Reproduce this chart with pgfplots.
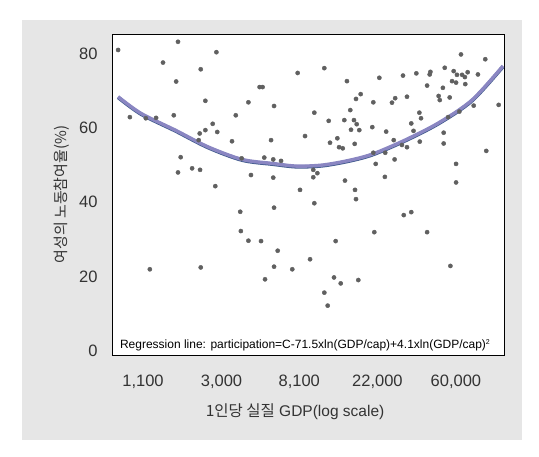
\documentclass[border=0pt]{standalone}
\usepackage{fontspec}
\setmainfont{Liberation Sans}
\newfontfamily\kr{Noto Sans CJK KR}
\usepackage{pgfplots}
\usepackage{pgfplotstable}
\pgfplotsset{compat=1.18}

\definecolor{bggray}{HTML}{E6E6E6}
\definecolor{dotgray}{HTML}{606060}
\definecolor{curvecol}{HTML}{8A86C2}
\definecolor{curveedge}{HTML}{3F5A8C}
\definecolor{txt}{HTML}{333333}

% GDP per capita (USD), participation (%)
\pgfplotstableread{
x y
800 81.0
1720 83.2
2810 80.4
1420 77.6
2300 75.8
1680 72.5
2440 67.3
930 62.9
1140 62.6
1300 62.7
1630 63.4
3600 63.4
2680 61.1
2440 59.4
2270 58.5
2840 58.9
2240 56.7
3430 56.4
1780 52.1
1720 48.0
2060 49.1
2280 48.7
2770 44.3
3880 51.8
4230 66.9
4880 71.0
5070 71.0
5870 65.9
7940 74.8
11160 76.1
14900 72.6
17760 69.1
16730 67.8
20870 66.9
9820 64.1
15550 64.8
11800 61.9
14410 62.1
16300 62.1
16880 61.0
15700 59.5
17450 59.4
20600 60.2
8720 57.8
5650 56.7
12000 56.0
13180 57.2
13470 54.8
14120 54.5
16450 55.7
5180 52.0
5810 51.5
6420 51.1
20870 53.3
21520 50.3
9690 48.7
10210 47.8
9690 46.7
4370 47.3
5810 46.6
14530 45.8
8180 43.3
16520 43.3
64000 79.8
87300 78.5
22540 73.5
30500 74.1
36170 74.7
42900 74.4
43300 75.1
52000 76.2
58300 75.3
60800 74.3
64900 74.3
69700 75.0
67300 73.7
79500 74.4
57100 72.6
60100 72.2
67600 71.8
41500 71.4
50800 70.8
27600 68.0
26500 66.8
32100 68.4
48100 68.6
48800 67.5
55400 68.2
75300 66.0
103600 66.2
62700 64.4
37600 64.1
38400 62.6
54300 62.9
33900 61.2
24600 59.0
34900 59.2
51300 58.7
27100 56.7
37800 56.3
51300 55.8
30100 55.4
32100 54.8
24300 53.3
27400 51.5
88400 53.8
60100 50.3
24200 46.8
60100 45.3
3810 37.4
3840 32.2
1200 21.9
2300 22.4
16730 40.8
5870 38.5
9820 39.7
4230 29.6
4970 29.5
6150 26.9
12900 29.5
21140 31.9
9300 24.6
5870 22.6
7410 21.9
5230 19.2
12630 19.7
13760 18.1
17230 19.0
11160 15.6
11650 12.1
30800 36.5
33900 37.3
41500 31.9
55900 22.8
}\points

% regression line
\pgfplotstableread{
x y
800 68.4
1072 63.9
1660 59.4
2520 54.9
3900 51.5
5790 50.4
7870 49.7
10970 50.0
15500 51.3
20800 53.0
31300 56.7
48300 61.4
73700 67.5
109500 76.7
}\fit

\begin{document}
\begin{tikzpicture}[x=1pt,y=1pt]
\path[use as bounding box, fill=white] (-112,-101) rectangle (427,355);
\fill[bggray] (-90,-85) rectangle (410,335);
\begin{axis}[
    at={(0,0)}, anchor=south west,
    width=392pt, height=321pt, scale only axis,
    xmode=log, xmin=740, xmax=110900,
    ymin=-1.2, ymax=85.3,
    axis background/.style={fill=white},
    axis line style={black, line width=0.8pt},
    xtick={1100,3000,8100,22000,60000},
    xticklabels={{1,100},{3,000},{8,100},{22,000},{60,000}},
    ytick={0,20,40,60,80},
    minor xtick={}, minor ytick={},
    major tick length=0pt, minor tick length=0pt,
    ticklabel style={font=\fontsize{16.5}{16.5}\selectfont, text=txt},
    /pgf/number format/assume math mode=true,
    xticklabel style={yshift=-16pt},
    yticklabel style={xshift=-11pt},
    xlabel={{\kr 1인당 실질} GDP(log scale)},
    xlabel style={at={(axis description cs:0.467,0)}, anchor=center,
        yshift=-57pt, font=\fontsize{15.5}{15.5}\selectfont, text=txt},
    ylabel={\kr 여성의 노동참여율(\%)},
    ylabel style={at={(axis description cs:-0.128,0.5)}, anchor=center,
        font=\fontsize{15}{15}\selectfont, text=txt},
]
\addplot[only marks, mark=*, mark size=2.1pt, color=dotgray] table {\points};
\addplot[curveedge, line width=3.6pt, smooth, yshift=-0.7pt] table {\fit};
\addplot[curvecol, line width=3.4pt, smooth] table {\fit};
\node[anchor=base west, font=\fontsize{12}{13}\selectfont, inner sep=0pt]
    at (rel axis cs:0.02,0.019)
    {Regression line: participation=C-71.5xln(GDP/cap)+4.1xln(GDP/cap)\textsuperscript{\fontsize{7}{7}\selectfont 2}};
\end{axis}
\end{tikzpicture}
\end{document}
